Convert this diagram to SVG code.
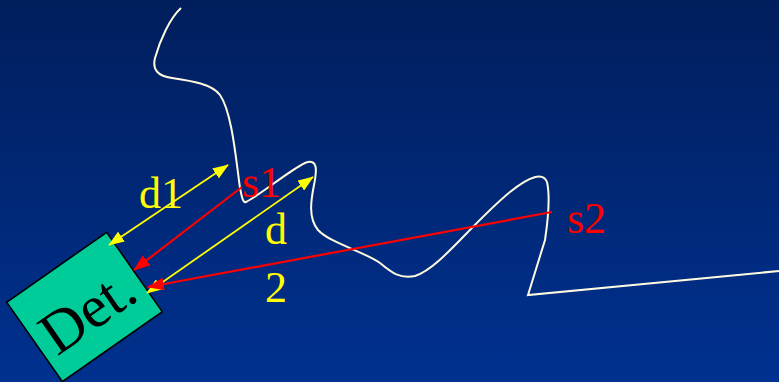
<svg xmlns="http://www.w3.org/2000/svg" width="779" height="382" viewBox="0 0 779 382">
<defs>
<linearGradient id="bg" x1="0" y1="0" x2="0" y2="1">
<stop offset="0" stop-color="#011e5c"/>
<stop offset="1" stop-color="#003190"/>
</linearGradient>
<marker id="ay" viewBox="0 0 16 12" refX="15" refY="6" markerWidth="16" markerHeight="12" markerUnits="userSpaceOnUse" orient="auto-start-reverse">
<path d="M0,0 L16,6 L0,12 Z" fill="#ffff00"/>
</marker>
<marker id="ar" viewBox="0 0 16 12" refX="15" refY="6" markerWidth="17" markerHeight="13" markerUnits="userSpaceOnUse" orient="auto">
<path d="M0,0 L16,6 L0,12 Z" fill="#ff0000"/>
</marker>
<style>
.lbl{font-family:"Liberation Serif","Times New Roman",serif;font-size:44px}
.y{fill:#ffff00}
.r{fill:#ff0000}
.yl{stroke:#ffff00;stroke-width:1.8;fill:none}
.rl{stroke:#ff0000;stroke-width:2.2;fill:none}
</style>
</defs>
<rect x="0" y="0" width="779" height="382" fill="url(#bg)"/>
<path id="surface" d="M181,8 C170,18 160,40 155,58 C152,70 158,76 172,78 C192,81 212,84 220,95 C232,112 236,160 240,188 C242,198 243,203 246,202 C260,195 290,170 305,163 C318,158 317,170 314,185 C311,200 308,218 318,230 C330,243 365,252 380,263 C392,273 400,279 415,276 C440,268 470,225 510,192 C530,176 543,172 547,182 C550,195 548,220 545,240 L528,295 L779,271" fill="none" stroke="#fffbe0" stroke-width="2"/>
<g id="det">
<g transform="translate(84.5,307) rotate(-35)">
<rect x="-61" y="-48.5" width="122" height="97" fill="#00cc99" stroke="#000" stroke-width="1.6"/>
<text x="0" y="25" text-anchor="middle" font-family="Liberation Serif, Times New Roman, serif" font-size="60" fill="#000">Det.</text>
</g>
</g>
<g id="connectors">
<line class="yl" x1="228" y1="165" x2="109" y2="245" marker-start="url(#ay)" marker-end="url(#ay)"/>
<line class="rl" x1="242" y1="187" x2="134" y2="270" marker-end="url(#ar)"/>
<line class="yl" x1="313" y1="177" x2="147" y2="293" marker-start="url(#ay)" marker-end="url(#ay)"/>
<line class="rl" x1="552" y1="212" x2="148" y2="287" marker-end="url(#ar)"/>
</g>
<g id="labels">
<text class="lbl y" x="139" y="208">d1</text>
<text class="lbl r" x="242" y="197">s1</text>
<text class="lbl y" x="265" y="244">d</text>
<text class="lbl y" x="265" y="302">2</text>
<text class="lbl r" x="567" y="233">s2</text>
</g>
</svg>
